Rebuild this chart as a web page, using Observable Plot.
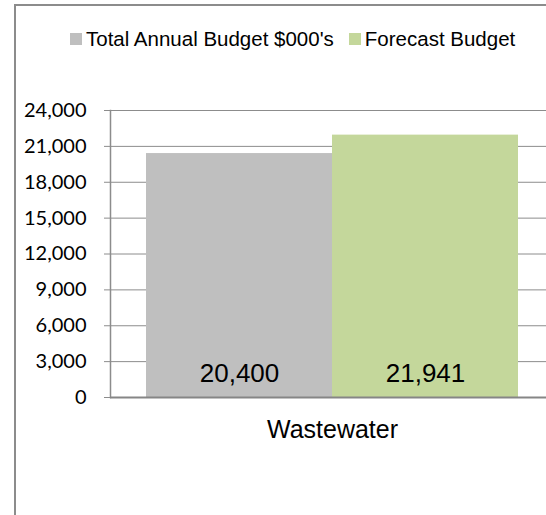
<!DOCTYPE html>
<html>
<head>
<meta charset="utf-8">
<script src="https://cdn.jsdelivr.net/npm/d3@7"></script>
<script src="https://cdn.jsdelivr.net/npm/@observablehq/plot@0.6"></script>
<style>
  html, body { margin: 0; padding: 0; background: #fff; overflow: hidden; width: 546px; height: 515px; }
  #wrap { position: relative; width: 546px; height: 515px; overflow: hidden; }
  #border { position: absolute; left: 14px; top: 4px; width: 600px; height: 600px;
            border-left: 2px solid #8c8c8c; border-top: 2px solid #8c8c8c; box-sizing: border-box; }
  #legend { position: absolute; left: 70px; top: 29px; display: flex; align-items: center;
            font-family: "Liberation Sans", Arial, sans-serif; font-size: 20.5px; line-height: 20px; color: #000; white-space: nowrap; }
  #legend .item { display: flex; align-items: center; margin-right: 15px; }
  #legend .sw { width: 12px; height: 12px; margin-right: 4px; }
  #chart { position: absolute; left: 0; top: 0; width: 554px; height: 515px; }
  #chart svg { max-width: none !important; width: 554px; height: 515px; }
</style>
</head>
<body>
<div id="wrap">
  <div id="border"></div>
  <div id="legend"></div>
  <div id="chart"></div>
</div>
<script>
const categories = ["Wastewater"];
const seriesNames = ["Total Annual Budget $000's", "Forecast Budget"];
const seriesValues = [20400, 21941];
const seriesColors = ["#BFBFBF", "#C4D79B"];
const yTicks = [0, 3000, 6000, 9000, 12000, 15000, 18000, 21000, 24000];

const data = seriesNames.map((s, i) => ({category: categories[0], series: s, value: seriesValues[i]}));
const fmt = d3.format(",");

// Legend
const legend = document.getElementById("legend");
seriesNames.forEach((s, i) => {
  const item = document.createElement("div");
  item.className = "item";
  const sw = document.createElement("span");
  sw.className = "sw";
  sw.style.background = seriesColors[i];
  const t = document.createElement("span");
  t.textContent = s;
  item.appendChild(sw);
  item.appendChild(t);
  legend.appendChild(item);
});

const chart = Plot.plot({
  width: 554,
  height: 515,
  marginLeft: 110,
  marginRight: 0,
  marginTop: 110,
  marginBottom: 118,
  style: {background: "transparent", overflow: "visible", maxWidth: "none"},
  fx: {domain: categories, padding: 0, label: null},
  x: {domain: seriesNames, paddingInner: 0, paddingOuter: 0.193, axis: null},
  y: {domain: [0, 24000], label: null},
  color: {domain: seriesNames, range: seriesColors},
  marks: [
    Plot.gridY(yTicks, {stroke: "#8c8c8c", strokeOpacity: 1, strokeWidth: 1}),
    Plot.barY(data, {fx: "category", x: "series", y: "value", fill: "series"}),
    Plot.frame({anchor: "left", stroke: "#8c8c8c", strokeWidth: 1.5}),
    Plot.ruleY([0], {stroke: "#868686", strokeWidth: 2}),
    Plot.axisY(yTicks, {tickSize: 6, tickPadding: 18, tickFormat: fmt, stroke: "#8c8c8c", fill: "#000",
                        fontSize: 20, fontFamily: "Lato, 'Open Sans', sans-serif", label: null}),
    Plot.axisFx({anchor: "bottom", tickSize: 0, tickPadding: 23, fontSize: 25,
                 fontFamily: "'Liberation Sans', Arial, sans-serif", fill: "#000", label: null}),
    Plot.text(data, {fx: "category", x: "series", y: 0, text: d => fmt(d.value), lineAnchor: "bottom", dy: -16,
                     fontSize: 26, fontFamily: "'Liberation Sans', Arial, sans-serif", fill: "#000"})
  ]
});
document.getElementById("chart").appendChild(chart);
</script>
</body>
</html>
